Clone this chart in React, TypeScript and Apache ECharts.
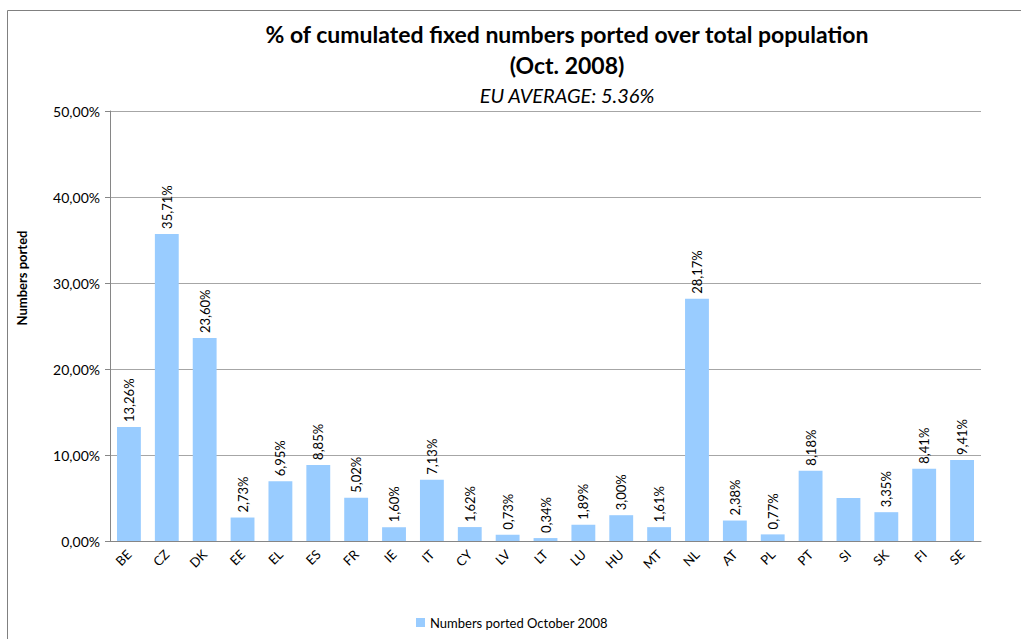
import React, { useEffect, useRef } from "react";
import * as echarts from "echarts";

const categories = ["BE","CZ","DK","EE","EL","ES","FR","IE","IT","CY","LV","LT","LU","HU","MT","NL","AT","PL","PT","SI","SK","FI","SE"];
const values = [13.26,35.71,23.60,2.73,6.95,8.85,5.02,1.60,7.13,1.62,0.73,0.34,1.89,3.00,1.61,28.17,2.38,0.77,8.18,5.0,3.35,8.41,9.41];
const hiddenLabels = ["SI"];
const seriesName = "Numbers ported October 2008";
const titleLines = ["% of cumulated fixed numbers ported over total population", "(Oct. 2008)"];
const subtitle = "EU AVERAGE: 5.36%";
const yTicks = { min: 0, max: 50, interval: 10 };

const FONT = "Lato, 'Open Sans', sans-serif";
const fmt = (v: number) => v.toFixed(2).replace(".", ",") + "%";

export default function App() {
  const ref = useRef<HTMLDivElement>(null);
  useEffect(() => {
    if (!ref.current) return;
    const chart = echarts.init(ref.current, null, { renderer: "svg" });
    chart.setOption({
      animation: false,
      backgroundColor: "#ffffff",
      textStyle: { fontFamily: FONT },
      graphic: [
        { type: "rect", shape: { x: 7.5, y: 10.5, width: 1100, height: 700 }, style: { fill: "none", stroke: "#808080", lineWidth: 1 }, silent: true },
        { type: "text", x: 567, y: 34, style: { text: titleLines[0], font: `bold 23px ${FONT}`, fill: "#000", textAlign: "center", textVerticalAlign: "middle" } },
        { type: "text", x: 567, y: 65, style: { text: titleLines[1], font: `bold 23px ${FONT}`, fill: "#000", textAlign: "center", textVerticalAlign: "middle" } },
        { type: "text", x: 567, y: 95, style: { text: subtitle, font: `italic 20px ${FONT}`, fill: "#000", textAlign: "center", textVerticalAlign: "middle" } },
        { type: "text", x: 22, y: 278, rotation: Math.PI / 2, style: { text: "Numbers ported", font: `bold 13px ${FONT}`, fill: "#000", textAlign: "center", textVerticalAlign: "middle" } },
      ],
      legend: {
        left: 411, top: 611,
        itemWidth: 9, itemHeight: 9, itemGap: 4,
        icon: "rect",
        textStyle: { fontSize: 13, color: "#000", fontFamily: FONT },
        data: [seriesName],
      },
      grid: { left: 110, right: 40, top: 111, bottom: 98, containLabel: false },
      xAxis: {
        type: "category",
        data: categories,
        axisLine: { lineStyle: { color: "#868686" } },
        axisTick: { show: false },
        axisLabel: { rotate: 45, fontSize: 13, color: "#000", margin: 11, interval: 0, fontFamily: FONT },
      },
      yAxis: {
        type: "value",
        min: yTicks.min, max: yTicks.max, interval: yTicks.interval,
        axisLine: { show: true, lineStyle: { color: "#868686" } },
        axisTick: { show: true, length: 5, lineStyle: { color: "#868686" } },
        splitLine: { lineStyle: { color: "#a6a6a6" } },
        axisLabel: { formatter: (v: number) => fmt(v), fontSize: 14, color: "#000", margin: 10, fontFamily: FONT },
      },
      series: [{
        name: seriesName,
        type: "bar",
        barCategoryGap: "37%",
        itemStyle: { color: "#99CCFF" },
        label: {
          show: true, position: "top", rotate: 90, align: "left", verticalAlign: "middle", distance: 5,
          fontSize: 13, color: "#000", fontFamily: FONT,
          formatter: (p: any) => fmt(p.value),
        },
        data: categories.map((c, i) => hiddenLabels.includes(c) ? { value: values[i], label: { show: false } } : values[i]),
      }],
    });
    return () => chart.dispose();
  }, []);
  return <div ref={ref} style={{ position: "fixed", left: 0, top: 0, width: 1021, height: 639 }} />;
}
